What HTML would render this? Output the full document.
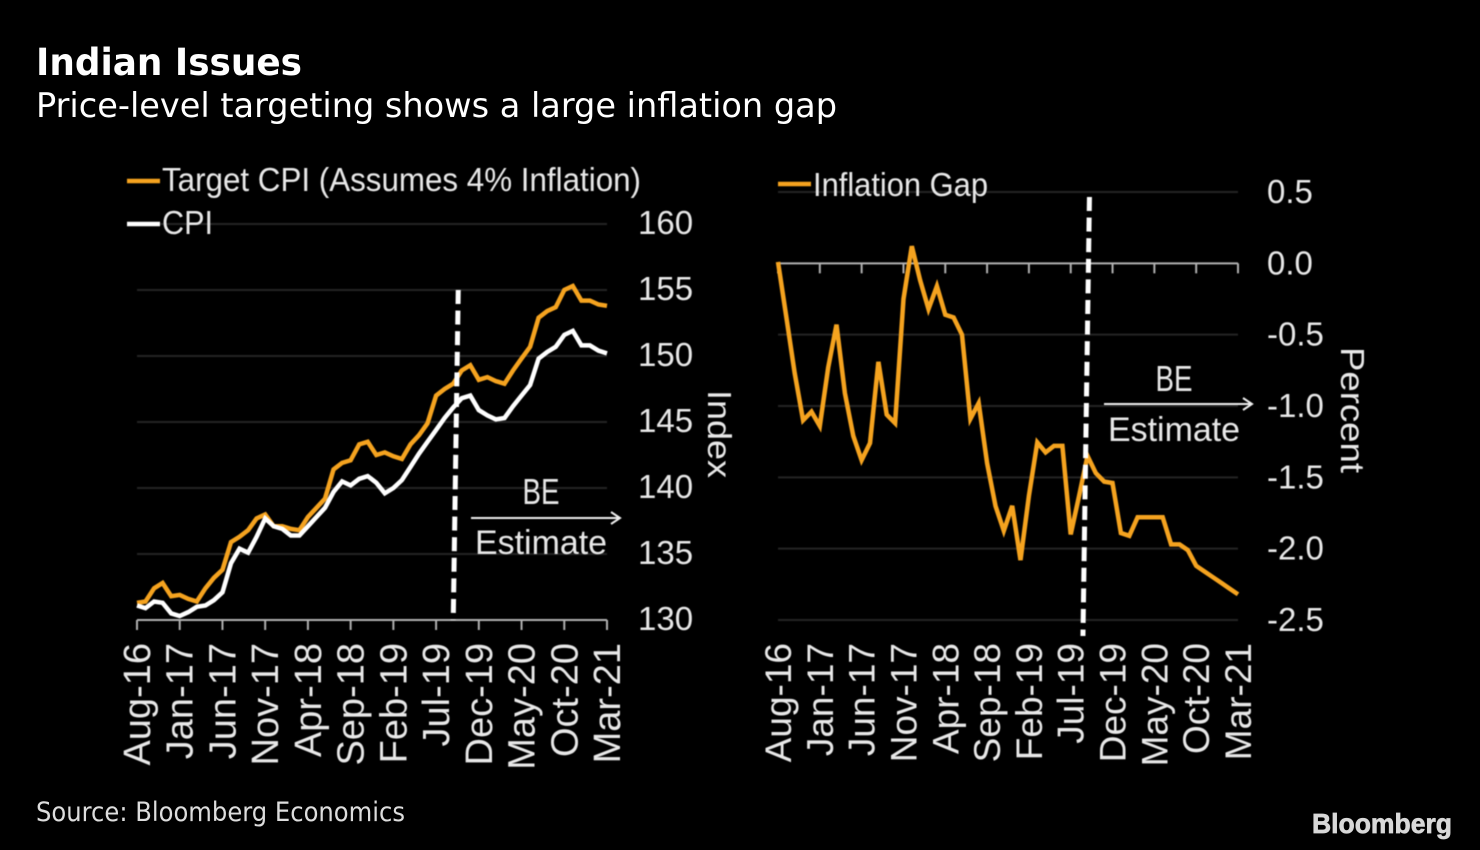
<!DOCTYPE html>
<html>
<head>
<meta charset="utf-8">
<title>Indian Issues</title>
<style>
  html, body { margin: 0; padding: 0; background: #000; }
  #stage { display: block; width: 1480px; height: 850px; background: #000; }
  .head { font-family: "DejaVu Sans", sans-serif; fill: #fff; }
  .lab { font-family: "Liberation Sans", Arial, sans-serif; fill: #e8e8e8; }
  .soft { filter: blur(0.45px); }
</style>
</head>
<body>
<svg id="stage" xmlns="http://www.w3.org/2000/svg" width="1480" height="850" viewBox="0 0 1480 850">
  <text class="head" x="36" y="75" font-size="37" font-weight="700" textLength="266" lengthAdjust="spacingAndGlyphs">Indian Issues</text>
  <text class="head" x="36" y="117" font-size="34" textLength="801" lengthAdjust="spacingAndGlyphs">Price-level targeting shows a large inflation gap</text>

  <g id="left-chart" class="soft"></g>
  <g id="right-chart" class="soft"></g>

  <g class="soft">
    <line x1="127" y1="181" x2="160" y2="181" stroke="#f5a31f" stroke-width="4.5"/>
    <text class="lab" x="162" y="191" font-size="33" textLength="479" lengthAdjust="spacingAndGlyphs">Target CPI (Assumes 4% Inflation)</text>
    <line x1="127" y1="224" x2="160" y2="224" stroke="#fff" stroke-width="4.5"/>
    <text class="lab" x="162" y="234" font-size="33" textLength="51" lengthAdjust="spacingAndGlyphs">CPI</text>
  </g>
  <g class="soft">
    <line x1="778" y1="184" x2="811" y2="184" stroke="#f5a31f" stroke-width="4.5"/>
    <text class="lab" x="813" y="196" font-size="33" textLength="175" lengthAdjust="spacingAndGlyphs">Inflation Gap</text>
  </g>

  <text class="head" x="36" y="821" font-size="27" style="fill:#ddd" textLength="369" lengthAdjust="spacingAndGlyphs">Source: Bloomberg Economics</text>
  <text x="1312" y="833" font-family="Liberation Sans, Arial, sans-serif" font-size="28" font-weight="700" fill="#d8d8d8" stroke="#d8d8d8" stroke-width="0.7" textLength="140" lengthAdjust="spacingAndGlyphs">Bloomberg</text>
</svg>

<script>
// Shared category labels (every 5 months)
const tickLabels = ["Aug-16","Jan-17","Jun-17","Nov-17","Apr-18","Sep-18","Feb-19","Jul-19","Dec-19","May-20","Oct-20","Mar-21"];
const monthsPerTick = 5;

// Left chart values (index, monthly Aug-16 to Mar-21)
const targetCpi = [131.3,131.4,132.4,132.8,131.8,131.9,131.6,131.4,132.4,133.2,133.8,135.9,136.3,136.8,137.7,138.0,137.1,137.1,136.9,136.8,137.8,138.5,139.2,141.4,141.9,142.1,143.3,143.5,142.5,142.7,142.4,142.2,143.3,144.0,144.9,147.0,147.5,147.9,148.9,149.3,148.2,148.4,148.1,147.9,148.9,149.8,150.7,152.9,153.4,153.7,155.0,155.3,154.2,154.2,153.9,153.8];
const cpi = [131.1,130.9,131.4,131.3,130.5,130.3,130.6,131.0,131.1,131.5,132.1,134.3,135.4,135.1,136.3,137.7,137.1,136.9,136.4,136.4,137.1,137.8,138.5,139.7,140.5,140.2,140.7,140.9,140.4,139.6,140.0,140.6,141.6,142.6,143.5,144.4,145.3,146.1,146.8,147.0,145.9,145.5,145.2,145.3,146.2,147.0,147.8,149.8,150.3,150.7,151.6,151.9,150.8,150.8,150.4,150.2];
const leftTicks = [130,135,140,145,150,155,160];

// Right chart values (percent, monthly Aug-16 to Mar-21)
const inflationGap = [0.01,-0.38,-0.77,-1.10,-1.04,-1.14,-0.73,-0.43,-0.91,-1.21,-1.38,-1.26,-0.69,-1.06,-1.12,-0.25,0.12,-0.12,-0.32,-0.16,-0.36,-0.38,-0.50,-1.09,-0.98,-1.40,-1.70,-1.875,-1.70,-2.08,-1.63,-1.255,-1.325,-1.28,-1.28,-1.90,-1.63,-1.35,-1.47,-1.53,-1.54,-1.89,-1.91,-1.78,-1.78,-1.78,-1.78,-1.97,-1.97,-2.01,-2.12,-2.16,-2.20,-2.24,-2.28,-2.32];
const rightTicks = [-2.5,-2.0,-1.5,-1.0,-0.5,0.0,0.5];

// Estimate start marker (month index from Aug-16)
const leftEstimateStart = 37.3;
const rightEstimateStart = 36.85;

const NS = "http://www.w3.org/2000/svg";
function mk(parent, tag, attrs, text) {
  const el = document.createElementNS(NS, tag);
  for (const k in attrs) el.setAttribute(k, attrs[k]);
  if (text !== undefined) el.textContent = text;
  parent.appendChild(el);
  return el;
}
function linear(d0, d1, r0, r1) {
  return v => r0 + (v - d0) * (r1 - r0) / (d1 - d0);
}
function pathFrom(values, x, y) {
  return values.map((v, i) => (i ? "L" : "M") + x(i).toFixed(1) + " " + y(v).toFixed(1)).join(" ");
}

const GRID = "#242424", AXIS = "#b0b0b0", ORANGE = "#f5a31f";
const lastIndex = targetCpi.length - 1;

/* ---------- left chart ---------- */
const L = document.getElementById("left-chart");
const lx = linear(0, lastIndex, 137, 607);
const ly = linear(130, 160, 620, 224);

leftTicks.forEach(t => {
  if (t !== 130) {
    const g = mk(L, "line", {x1: lx(0), x2: lx(lastIndex), y1: ly(t), y2: ly(t), stroke: GRID, "stroke-width": 2});
    
    
  }
  const lab = mk(L, "text", {class: "lab", x: 638, y: ly(t) + 10, "font-size": 33}, String(t));
  
  
});

const lAxis = mk(L, "line", {x1: lx(0), x2: lx(lastIndex), y1: 620, y2: 620, stroke: AXIS, "stroke-width": 2});



tickLabels.forEach((t, i) => {
  const x = lx(i * monthsPerTick);
  const tick = mk(L, "line", {x1: x, x2: x, y1: 620, y2: 630, stroke: AXIS, "stroke-width": 2});
  
  
  const lab = mk(L, "text", {class: "lab", "font-size": 38, "text-anchor": "end", transform: "translate(" + (x + 13) + ",643) rotate(-90)"}, t);
  
  
});

const lOrange = mk(L, "path", {d: pathFrom(targetCpi, lx, ly), fill: "none", stroke: ORANGE, "stroke-width": 4.5, "stroke-linejoin": "miter"});


const lWhite = mk(L, "path", {d: pathFrom(cpi, lx, ly), fill: "none", stroke: "#fff", "stroke-width": 4.5, "stroke-linejoin": "miter"});



const lDash = mk(L, "line", {x1: lx(leftEstimateStart) + 2.5, y1: 290, x2: lx(leftEstimateStart) - 2.5, y2: 620, stroke: "#fff", "stroke-width": 5, "stroke-dasharray": "14 6.6"});



const lIdx = mk(L, "text", {class: "lab", "font-size": 33, "text-anchor": "middle", transform: "translate(708,434) rotate(90)", textLength: 88, lengthAdjust: "spacingAndGlyphs"}, "Index");



function estimateNote(parent, cx, x0, x1, arrowY, beY, estY, prefix) {
  const be = mk(parent, "text", {class: "lab", x: cx, y: beY, "font-size": 36, "text-anchor": "middle", textLength: 37, lengthAdjust: "spacingAndGlyphs"}, "BE");
  
  
  const est = mk(parent, "text", {class: "lab", x: cx, y: estY, "font-size": 34, "text-anchor": "middle", textLength: 132, lengthAdjust: "spacingAndGlyphs"}, "Estimate");
  
  
  const arrow = mk(parent, "path", {d: "M" + x0 + " " + arrowY + " H" + x1 + " M" + (x1 - 9) + " " + (arrowY - 6) + " L" + x1 + " " + arrowY + " L" + (x1 - 9) + " " + (arrowY + 6), fill: "none", stroke: "#eee", "stroke-width": 2});
  
  
}
estimateNote(L, 541, 471, 620, 518, 504, 554, 'left');

/* ---------- right chart ---------- */
const R = document.getElementById("right-chart");
const rx = linear(0, lastIndex, 778, 1238);
const ry = linear(-2.5, 0.5, 620, 192);

rightTicks.forEach(t => {
  if (t !== 0) {
    const g = mk(R, "line", {x1: rx(0), x2: rx(lastIndex), y1: ry(t), y2: ry(t), stroke: GRID, "stroke-width": 2});
    
    
  }
  const lab = mk(R, "text", {class: "lab", x: 1267, y: ry(t) + 11, "font-size": 33}, t.toFixed(1));
  
  
});

const rAxis = mk(R, "line", {x1: rx(0), x2: rx(lastIndex), y1: ry(0), y2: ry(0), stroke: AXIS, "stroke-width": 2});



tickLabels.forEach((t, i) => {
  const x = rx(i * monthsPerTick);
  const tick = mk(R, "line", {x1: x, x2: x, y1: ry(0), y2: ry(0) + 10, stroke: AXIS, "stroke-width": 2});
  
  
  const lab = mk(R, "text", {class: "lab", "font-size": 37, "text-anchor": "end", transform: "translate(" + (x + 13) + ",643) rotate(-90)"}, t);
  
  
});

const rLine = mk(R, "path", {d: pathFrom(inflationGap, rx, ry), fill: "none", stroke: ORANGE, "stroke-width": 4.5, "stroke-linejoin": "miter"});



const rDash = mk(R, "line", {x1: rx(rightEstimateStart) + 3.25, y1: 197, x2: rx(rightEstimateStart) - 3.25, y2: 636, stroke: "#fff", "stroke-width": 5, "stroke-dasharray": "14 6.6"});



const rIdx = mk(R, "text", {class: "lab", "font-size": 33, "text-anchor": "middle", transform: "translate(1341,410) rotate(90)", textLength: 126, lengthAdjust: "spacingAndGlyphs"}, "Percent");



estimateNote(R, 1174, 1104, 1252, 404, 391, 441, 'right');
</script>
</body>
</html>
